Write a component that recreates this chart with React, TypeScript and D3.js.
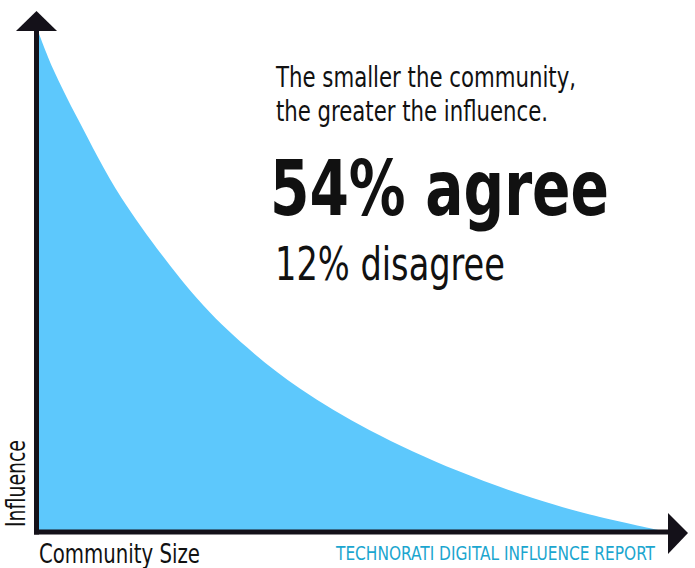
import React from "react";
import * as d3 from "d3";

// Community size (0 = smallest) vs influence
const communitySize = [0, 2.4, 6.5, 13.5, 25.6, 33.7, 42.3, 53.5, 67.6, 79.8, 89.0, 100];
const influence = [100, 92.5, 82.2, 66.5, 46.5, 36.6, 28.3, 20.0, 11.9, 6.4, 3.1, 0];

const headline = ["The smaller the community,", "the greater the influence."];
const agreeLabel = "54% agree";
const disagreeLabel = "12% disagree";
const xAxisLabel = "Community Size";
const yAxisLabel = "Influence";
const sourceLabel = "TECHNORATI DIGITAL INFLUENCE REPORT";

const W = 695;
const H = 568;
const FONT = "'Liberation Sans Narrow', 'DejaVu Sans Condensed', 'Roboto', sans-serif";

export default function App() {
  const x = d3.scaleLinear().domain([0, 100]).range([38, 658]);
  const y = d3.scaleLinear().domain([0, 100]).range([530, 31]);
  const data = communitySize.map((c, i) => ({ c, v: influence[i] }));
  const area = d3
    .area<{ c: number; v: number }>()
    .x((d) => x(d.c))
    .y0(y(0))
    .y1((d) => y(d.v))
    .curve(d3.curveCatmullRom.alpha(0.5));

  const ox = 36.5;
  const oy = 532;

  return (
    <svg
      width={W}
      height={H}
      viewBox={`0 0 ${W} ${H}`}
      style={{ position: "absolute", left: 0, top: 0, display: "block", background: "#fff" }}
    >
      <path d={area(data) || ""} fill="#5DC8FC" />
      {/* axes */}
      <line x1={ox} y1={28} x2={ox} y2={oy + 2.5} stroke="#141119" strokeWidth={5} />
      <line x1={ox - 2.5} y1={oy} x2={670} y2={oy} stroke="#141119" strokeWidth={5} />
      <polygon points={`${ox},11 16,31 57,31`} fill="#141119" />
      <polygon points={`688,533 668,513 668,554`} fill="#141119" />

      {/* texts */}
      <text x={276} y={87} fontFamily={FONT} fontSize={28} fill="#111" textLength={300} lengthAdjust="spacingAndGlyphs">
        {headline[0]}
      </text>
      <text x={276} y={121} fontFamily={FONT} fontSize={28} fill="#111" textLength={272} lengthAdjust="spacingAndGlyphs">
        {headline[1]}
      </text>
      <text x={270} y={215} fontFamily={FONT} fontWeight="bold" fontSize={77} fill="#111" textLength={339} lengthAdjust="spacingAndGlyphs">
        {agreeLabel}
      </text>
      <text x={275} y={280} fontFamily={FONT} fontSize={46} fill="#111" textLength={230} lengthAdjust="spacingAndGlyphs">
        {disagreeLabel}
      </text>
      <text x={39} y={563} fontFamily={FONT} fontSize={26} fill="#111" textLength={161} lengthAdjust="spacingAndGlyphs">
        {xAxisLabel}
      </text>
      <text
        transform="translate(25,527) rotate(-90)"
        fontFamily={FONT}
        fontSize={26}
        fill="#111"
        textLength={87}
        lengthAdjust="spacingAndGlyphs"
      >
        {yAxisLabel}
      </text>
      <text x={336} y={560} fontFamily={FONT} fontSize={20} fill="#1BA6CF" textLength={319} lengthAdjust="spacingAndGlyphs">
        {sourceLabel}
      </text>
    </svg>
  );
}
